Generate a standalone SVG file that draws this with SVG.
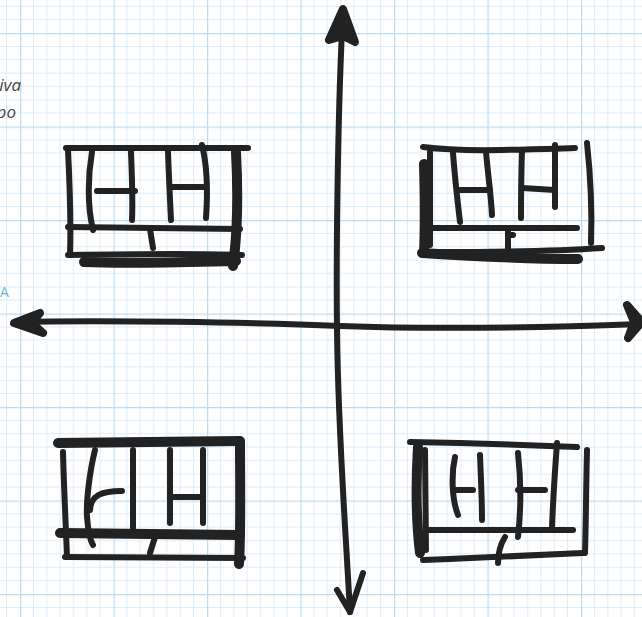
<svg xmlns="http://www.w3.org/2000/svg" width="642" height="617" viewBox="0 0 642 617">
<defs>
<pattern id="grid" patternUnits="userSpaceOnUse" x="20" y="33" width="93.5" height="93.5">
<g stroke="#dcebf8" stroke-width="1">
<path d="M13.36,0V93.5M26.71,0V93.5M40.07,0V93.5M53.43,0V93.5M66.79,0V93.5M80.14,0V93.5"/>
<path d="M0,13.36H93.5M0,26.71H93.5M0,40.07H93.5M0,53.43H93.5M0,66.79H93.5M0,80.14H93.5"/>
</g>
<path d="M0,0V93.5M0,0H93.5" stroke="#bcdcf2" stroke-width="2.5"/>
</pattern>
<style>
.s{stroke:#222;stroke-width:6;fill:none;stroke-linecap:round;stroke-linejoin:round}
.t{stroke:#222;stroke-width:10;fill:none;stroke-linecap:round;stroke-linejoin:round}
.h{fill:#222;stroke:#222;stroke-width:8;stroke-linejoin:round;stroke-linecap:round}
.lbl{font-family:"Open Sans","Noto Sans",sans-serif;font-style:italic;font-size:17px;fill:#444}
</style>
</defs>
<rect width="642" height="617" fill="#fff"/>
<rect width="642" height="617" fill="url(#grid)"/>

<g id="labels">
<text class="lbl" x="21" y="91" text-anchor="end">iva</text>
<text class="lbl" x="16" y="118" text-anchor="end">po</text>
<text x="0" y="297" font-family="'Open Sans','Noto Sans',sans-serif" font-size="14" fill="#6cb4d8">A</text>
</g>

<g id="connectors">
<path class="s" d="M343,12 C338,100 336,250 337,330 C338,430 345,520 350,612"/>
<path class="h" d="M343,9 L329,40 L343,36 L355,42 Z"/>
<path class="s" d="M337,590 L350,612 L363,573"/>
<path class="s" d="M15,322 C100,320 250,322 340,326 C450,330 560,327 640,324"/>
<path class="h" d="M14,323 L40,313 L32,323 L43,333 Z"/>
<path class="h" d="M627,305 L642,322 L628,338 L634,322 Z"/>
</g>

<g id="quadrant-top-left">
<path class="s" d="M66,148 L248,148"/>
<path class="s" d="M68,150 C70,190 71,225 70,255"/>
<path class="s" d="M92,152 C88,175 87,205 93,230"/>
<path class="s" d="M131,152 C132,180 133,200 132,220"/>
<path class="s" d="M97,191 L135,191"/>
<path class="s" d="M168,152 C169,180 170,200 171,220"/>
<path class="s" d="M202,145 C207,165 208,190 206,218"/>
<path class="s" d="M170,187 L205,187"/>
<path class="s" d="M68,227 L240,229"/>
<path class="s" d="M150,229 L153,248"/>
<path class="s" d="M68,255 C130,254 190,253 242,255"/>
<path class="t" d="M84,262 C130,264 190,262 236,261"/>
<path class="t" d="M236,152 C238,190 238,230 233,266"/>
</g>

<g id="quadrant-top-right">
<path class="s" d="M423,147 C460,152 510,150 575,148"/>
<path class="t" d="M424,164 C425,200 425,230 424,253"/>
<path class="s" d="M430,152 L430,245"/>
<path class="s" d="M453,153 C455,180 458,205 460,222"/>
<path class="s" d="M486,152 C488,175 491,195 492,215"/>
<path class="s" d="M460,190 L490,190"/>
<path class="s" d="M522,150 C521,180 521,200 521,218"/>
<path class="s" d="M555,145 C555,170 555,190 555,207"/>
<path class="s" d="M522,188 L555,190"/>
<path class="s" d="M433,228 L577,228"/>
<path class="s" d="M508,232 L508,250"/>
<path class="s" d="M508,235 L513,235"/>
<path class="t" d="M422,253 C470,256 530,259 578,259"/>
<path class="s" d="M440,252 C500,252 560,251 602,248"/>
<path class="s" d="M587,143 C591,180 592,215 591,243"/>
</g>

<g id="quadrant-bottom-left">
<path class="t" d="M58,443 L240,441"/>
<path class="s" d="M63,452 C64,490 66,530 67,557"/>
<path class="s" d="M95,450 C90,470 86,500 87,517 C88,530 90,540 93,545"/>
<path class="s" d="M90,510 C91,496 100,491 122,491"/>
<path class="s" d="M133,450 L133,528"/>
<path class="s" d="M170,450 L170,523"/>
<path class="s" d="M203,450 L203,523"/>
<path class="s" d="M170,497 L203,497"/>
<path class="t" d="M60,533 L240,535"/>
<path class="s" d="M155,537 L150,553"/>
<path class="s" d="M65,557 L243,558"/>
<path class="t" d="M240,442 C240,480 241,530 239,564"/>
</g>

<g id="quadrant-bottom-right">
<path class="s" d="M410,442 C470,443 530,445 577,447"/>
<path class="t" d="M418,447 C416,480 416,520 420,553"/>
<path class="s" d="M425,450 L426,550"/>
<path class="s" d="M455,457 C451,475 452,500 458,515"/>
<path class="s" d="M455,490 L473,490"/>
<path class="s" d="M480,455 C481,480 482,500 482,520"/>
<path class="s" d="M518,453 C521,480 521,510 518,537"/>
<path class="s" d="M518,490 L545,490"/>
<path class="s" d="M557,443 C555,470 553,500 552,528"/>
<path class="s" d="M427,530 L573,530"/>
<path class="s" d="M505,537 C500,545 498,555 498,563"/>
<path class="s" d="M423,560 C480,558 540,555 583,553"/>
<path class="s" d="M587,450 C586,490 586,520 585,553"/>
</g>
</svg>
